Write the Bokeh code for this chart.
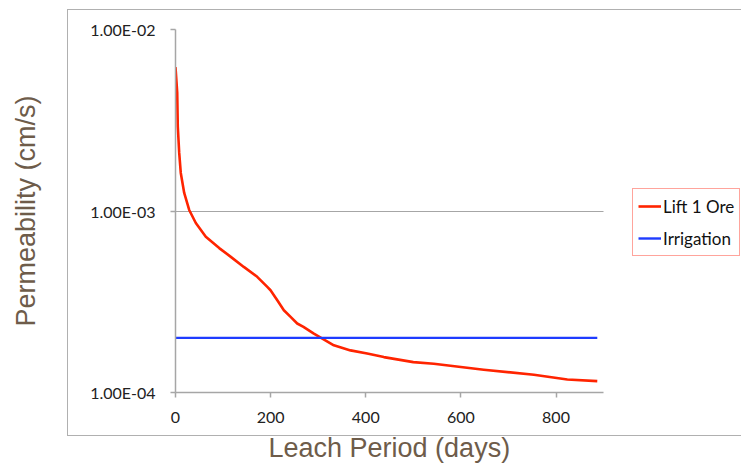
from bokeh.plotting import figure
from bokeh.models import Range1d, FixedTicker, Legend, LegendItem, InlineStyleSheet, Title
from bokeh.embed import file_html
from bokeh.resources import INLINE

# ---- data ----
lift_days = [0, 3.6, 4.8, 7.8, 11.1, 18.3, 28.8, 42.7, 63.7, 91.9, 116.3, 143.6,
             171.8, 193, 199.8, 214, 227.8, 242, 255.9, 269, 290.9, 332.9,
             368, 403, 438, 500, 543, 648, 753.5, 823.8, 886.8]
lift_perm = [6.2e-3, 4.49e-3, 2.92e-3, 2.09e-3, 1.62e-3, 1.257e-3, 1.013e-3,
             8.585e-4, 7.21e-4, 6.245e-4, 5.59e-4, 4.92e-4, 4.34e-4, 3.82e-4,
             3.66e-4, 3.22e-4, 2.84e-4, 2.61e-4, 2.40e-4, 2.30e-4, 2.11e-4,
             1.82e-4, 1.706e-4, 1.64e-4, 1.567e-4, 1.47e-4, 1.44e-4,
             1.335e-4, 1.253e-4, 1.18e-4, 1.155e-4]
irr_days = [0, 886.8]
irr_perm = [2e-4, 2e-4]
x_ticks = [0, 200, 400, 600, 800]
x_axis_end = 900
y_ticks = [1e-4, 1e-3, 1e-2]
y_tick_labels = ["1.00E-04", "1.00E-03", "1.00E-02"]

GRAY = "#a6a6a6"
BROWN = "#6e5c4a"

# frame spans to the right edge so the legend (outside the axes) is not clipped;
# the axis line and grid lines are bounded to 0..900 days
p = figure(width=741, height=468, output_backend="svg", toolbar_location=None,
           x_range=Range1d(0, 1190), y_range=Range1d(1e-4, 1e-2), y_axis_type="log",
           min_border_left=175, min_border_right=0, min_border_top=29,
           min_border_bottom=76)
p.outline_line_color = None
p.background_fill_color = "white"
p.border_fill_color = "white"

# outer chart-area box (drawn with CSS around the plot area)
p.stylesheets = [InlineStyleSheet(css="""
:host::after {
  content: '';
  position: absolute;
  left: 67px; top: 9px; width: 720px; height: 427px;
  border: 1.5px solid #b0b0b0;
  box-sizing: border-box;
  pointer-events: none;
}
""")]

r1 = p.line(lift_days, lift_perm, line_color="#ff2400", line_width=2.6, line_join="round")
r2 = p.line(irr_days, irr_perm, line_color="#1f3cff", line_width=2.4)

# axes
p.xaxis.ticker = FixedTicker(ticks=x_ticks)
p.xaxis.bounds = (0, x_axis_end)
p.yaxis.ticker = FixedTicker(ticks=y_ticks)
p.yaxis.major_label_overrides = dict(zip(y_ticks, y_tick_labels))
for ax in (p.xaxis[0], p.yaxis[0]):
    ax.axis_line_color = GRAY
    ax.axis_line_width = 1.5
    ax.major_tick_line_color = GRAY
    ax.major_tick_line_width = 1.5
    ax.major_tick_out = 5
    ax.major_tick_in = 0
    ax.minor_tick_line_color = None
    ax.major_label_text_font = "Lato"
    ax.major_label_text_font_size = "16px"
    ax.major_label_text_color = "#222222"
    ax.axis_label_text_font = "Liberation Sans"
    ax.axis_label_text_font_style = "normal"
    ax.axis_label_text_font_size = "27px"
    ax.axis_label_text_color = BROWN

p.xaxis.major_label_standoff = 14
p.yaxis.major_label_standoff = 15
p.yaxis.axis_label = "Permeability (cm/s)"
p.yaxis.axis_label_standoff = 46

# x-axis title, centred under the 0..900 axis
xtitle = Title(text="Leach Period (days)", align="left", offset=93, standoff=10,
               text_font="Liberation Sans", text_font_size="27px",
               text_font_style="normal", text_color=BROWN)
p.add_layout(xtitle, "below")

p.xgrid.grid_line_color = None
p.ygrid.ticker = FixedTicker(ticks=y_ticks)
p.ygrid.cross_bounds = (0, x_axis_end)
p.ygrid.grid_line_color = GRAY
p.ygrid.grid_line_width = 1.2

legend = Legend(items=[LegendItem(label="Lift 1 Ore", renderers=[r1]),
                       LegendItem(label="Irrigation", renderers=[r2])],
                location=(457, 136), orientation="vertical",
                border_line_color="#ff4a3a", border_line_width=1.2,
                background_fill_color="white", background_fill_alpha=1,
                label_text_font="Lato", label_text_font_size="17px",
                label_text_color="#111111", glyph_width=23, glyph_height=20,
                label_height=24, spacing=8, padding=5, margin=0,
                label_standoff=2)
p.add_layout(legend)

open("out.html", "w").write(file_html(p, INLINE))
